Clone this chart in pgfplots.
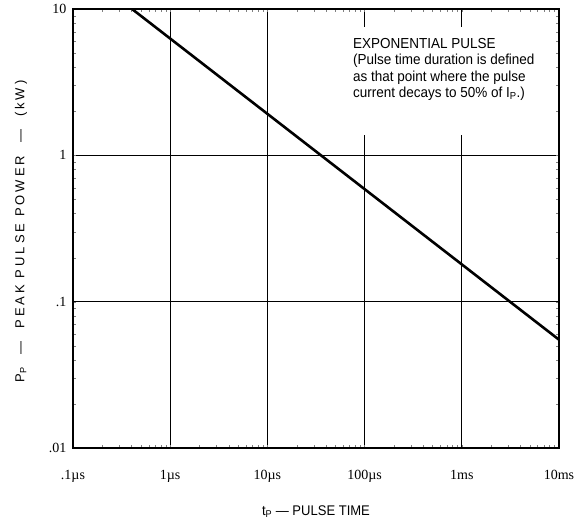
\documentclass[border=0pt]{standalone}
\usepackage{fontspec}
\setmainfont{Liberation Sans}
\newfontfamily\serifnum{Liberation Serif}
\newfontfamily\annfont[FakeStretch=0.93]{Liberation Sans}
\newfontfamily\ylabfont[LetterSpace=23]{Liberation Sans}
\usepackage{pgfplots}
\pgfplotsset{compat=1.18}
\begin{document}
\begin{tikzpicture}
\path[use as bounding box] (-73pt,-83pt) rectangle (514pt,448pt);
\begin{axis}[
  at={(0,0)}, anchor=south west,
  scale only axis, width=486pt, height=439pt,
  xmode=log, ymode=log,
  xmin=1e-7, xmax=1e-2, ymin=0.01, ymax=10,
  xtick={1e-7,1e-6,1e-5,1e-4,1e-3,1e-2},
  xticklabels={.1µs,1µs,10µs,100µs,1ms,10ms},
  ytick={0.01,0.1,1,10},
  yticklabels={.01,.1,1,10},
  minor tick num=0, major tick length=0pt,
  grid=major,
  major grid style={black, line width=1.1pt},
  axis line style={black, line width=1.4pt},
  xticklabel style={font=\serifnum\fontsize{14}{16}\selectfont, yshift=-19pt},
  yticklabel style={font=\serifnum\fontsize{14}{16}\selectfont, xshift=-3pt},
  clip mode=individual,
]
\addplot[black, line width=2.6pt] coordinates {(4.05e-7,10) (1e-2,0.055)};
\fill[white] (axis cs:6.3e-5,1.38) rectangle (axis cs:9.3e-3,7.54);
\node[anchor=north west, align=left, font=\annfont\fontsize{14.5}{16.5}\selectfont, inner sep=0pt]
  at (rel axis cs:0.576,0.934) {EXPONENTIAL PULSE\\(Pulse time duration is defined\\as that point where the pulse\\current decays to 50\% of I\textsubscript{P}.)};
\node[rotate=90, font=\ylabfont\fontsize{13}{15}\selectfont] at ([xshift=-52pt]rel axis cs:0,0.493)
  {P\textsubscript{P}\quad—\quad PEAK PULSE POWER\quad—\quad(kW)};
\node[font=\annfont\fontsize{14}{16}\selectfont] at ([yshift=-64pt]rel axis cs:0.5,0)
  {t\textsubscript{P} — PULSE TIME};
\end{axis}
\end{tikzpicture}
\end{document}
